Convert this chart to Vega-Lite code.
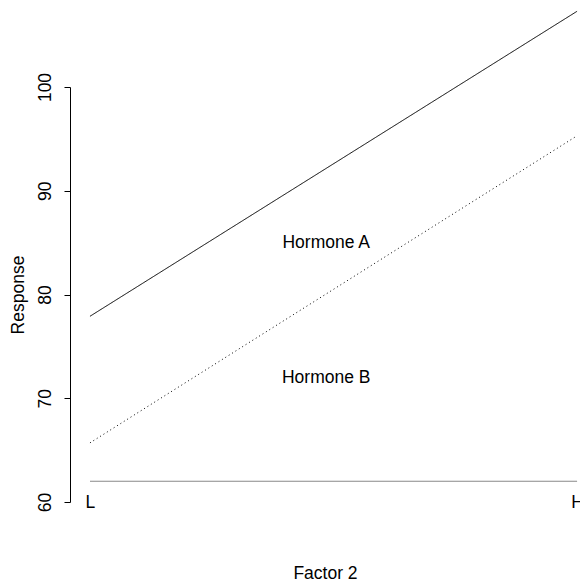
{
  "$schema": "https://vega.github.io/schema/vega-lite/v6.json",
  "autosize": "none",
  "padding": {"left": 70, "top": 87, "right": 0, "bottom": 80},
  "width": 510,
  "height": 415,
  "background": "white",
  "config": {
    "view": {"stroke": null},
    "font": "Liberation Sans",
    "axis": {"grid": false, "labelFont": "Liberation Sans", "titleFont": "Liberation Sans", "labelColor": "black", "titleColor": "black", "titleFontWeight": "normal", "labelFontSize": 17.5, "titleFontSize": 17.5}
  },
  "datasets": {
    "means": [
      {"hormone": "A", "factor": 1, "response": 77.9},
      {"hormone": "A", "factor": 2, "response": 107.3},
      {"hormone": "B", "factor": 1, "response": 65.7},
      {"hormone": "B", "factor": 2, "response": 95.3}
    ],
    "baseline": [
      {"factor": 1, "response": 62},
      {"factor": 2, "response": 62}
    ],
    "labels": [
      {"label": "Hormone A", "factor": 1.485, "response": 85},
      {"label": "Hormone B", "factor": 1.485, "response": 72}
    ]
  },
  "layer": [
    {
      "data": {"name": "baseline"},
      "mark": {"type": "line", "color": "#888888", "strokeWidth": 1.2},
      "encoding": {
        "x": {
          "field": "factor", "type": "quantitative",
          "scale": {"domain": [0.959, 2.006], "nice": false, "zero": false},
          "axis": {"title": "Factor 2", "values": [1, 2], "labelExpr": "datum.value == 1 ? 'L' : 'H'", "domain": false, "ticks": false, "tickSize": 0, "labelPadding": -9, "labelFlush": false, "titlePadding": 54}
        },
        "y": {
          "field": "response", "type": "quantitative",
          "scale": {"domain": [60, 100], "nice": false, "zero": false},
          "axis": {"title": "Response", "values": [60, 70, 80, 90, 100], "domain": true, "domainColor": "black", "tickColor": "black", "tickSize": 6, "labelAngle": 270, "labelAlign": "center", "labelBaseline": "bottom", "labelPadding": 10, "titlePadding": 9}
        }
      }
    },
    {
      "data": {"name": "means"},
      "mark": {"type": "line", "color": "black", "strokeWidth": 1, "clip": false},
      "encoding": {
        "x": {"field": "factor", "type": "quantitative"},
        "y": {"field": "response", "type": "quantitative"},
        "detail": {"field": "hormone"},
        "strokeDash": {"field": "hormone", "type": "nominal", "scale": {"domain": ["A", "B"], "range": [[1, 0], [1, 3]]}, "legend": null}
      }
    },
    {
      "data": {"name": "labels"},
      "mark": {"type": "text", "font": "Liberation Sans", "fontSize": 17.5, "color": "black", "align": "center", "baseline": "middle"},
      "encoding": {
        "x": {"field": "factor", "type": "quantitative"},
        "y": {"field": "response", "type": "quantitative"},
        "text": {"field": "label"}
      }
    }
  ]
}
